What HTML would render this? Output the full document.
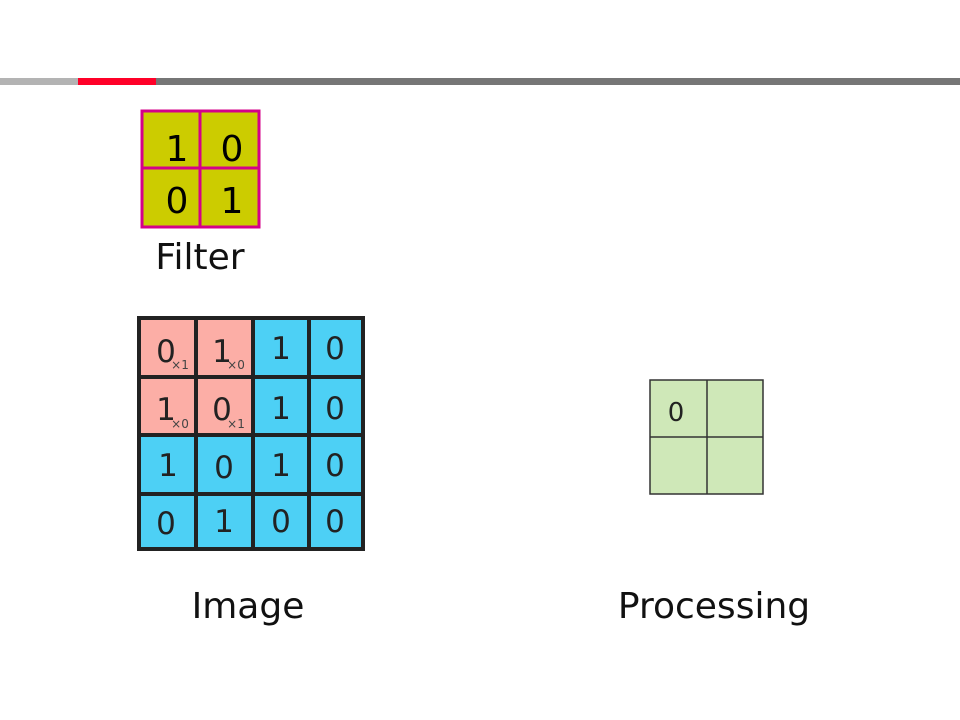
<!DOCTYPE html>
<html><head><style>
body{margin:0;width:960px;height:720px;background:#fff;position:relative;overflow:hidden;font-family:"DejaVu Sans","Liberation Sans",sans-serif}
.a{position:absolute}
.t{position:absolute;font-size:36px;color:#111;transform:translateX(-50%);white-space:nowrap}
</style></head><body>
<div class="a" style="left:0;top:78px;width:78px;height:7px;background:#b3b3b3"></div>
<div class="a" style="left:78px;top:78px;width:78px;height:7px;background:#ff0028"></div>
<div class="a" style="left:156px;top:78px;width:804px;height:7px;background:#767676"></div>
<svg class="a" style="left:0;top:0" width="960" height="720">
<g font-family="DejaVu Sans, sans-serif">
<rect x="142" y="111" width="117" height="116" fill="#cccc00" stroke="#d4008a" stroke-width="3"/>
<line x1="200" y1="111" x2="200" y2="227" stroke="#d4008a" stroke-width="3"/>
<line x1="142" y1="168" x2="259" y2="168" stroke="#d4008a" stroke-width="3"/>
<g font-size="36" fill="#000" text-anchor="middle">
<text x="177" y="161">1</text><text x="232" y="161">0</text>
<text x="177" y="213">0</text><text x="232" y="213">1</text></g>

<rect x="139" y="318" width="224" height="231" fill="#4dd0f5"/>
<rect x="139" y="318" width="112" height="116" fill="#fcaea6"/>
<g stroke="#222" stroke-width="4" fill="none">
<rect x="139" y="318" width="224" height="231"/>
<line x1="196" y1="318" x2="196" y2="549"/><line x1="253" y1="318" x2="253" y2="549"/><line x1="309" y1="318" x2="309" y2="549"/>
<line x1="139" y1="377" x2="363" y2="377"/><line x1="139" y1="435" x2="363" y2="435"/><line x1="139" y1="494" x2="363" y2="494"/>
</g>
<g font-size="31" fill="#222" text-anchor="middle">
<text x="166" y="362">0</text><text x="222" y="362">1</text><text x="281" y="359">1</text><text x="335" y="359">0</text>
<text x="166" y="420">1</text><text x="222" y="420">0</text><text x="281" y="419">1</text><text x="335" y="419">0</text>
<text x="168" y="476">1</text><text x="224" y="478">0</text><text x="281" y="476">1</text><text x="335" y="476">0</text>
<text x="166" y="534">0</text><text x="224" y="532">1</text><text x="281" y="532">0</text><text x="335" y="532">0</text>
</g>
<g font-size="12" fill="#444" text-anchor="middle">
<text x="180" y="369">×1</text><text x="236" y="369">×0</text>
<text x="180" y="428">×0</text><text x="236" y="428">×1</text>
</g>

<rect x="650" y="380" width="113" height="114" fill="#cfe8b8" stroke="#333" stroke-width="1.5"/>
<line x1="707" y1="380" x2="707" y2="494" stroke="#333" stroke-width="1.5"/>
<line x1="650" y1="437" x2="763" y2="437" stroke="#333" stroke-width="1.5"/>
<text x="676" y="421" font-size="26" fill="#222" text-anchor="middle">0</text>
</g>
</svg>
<div class="t" style="left:200px;top:237px">Filter</div>
<div class="t" style="left:248px;top:586px">Image</div>
<div class="t" style="left:714px;top:586px">Processing</div>
</body></html>
